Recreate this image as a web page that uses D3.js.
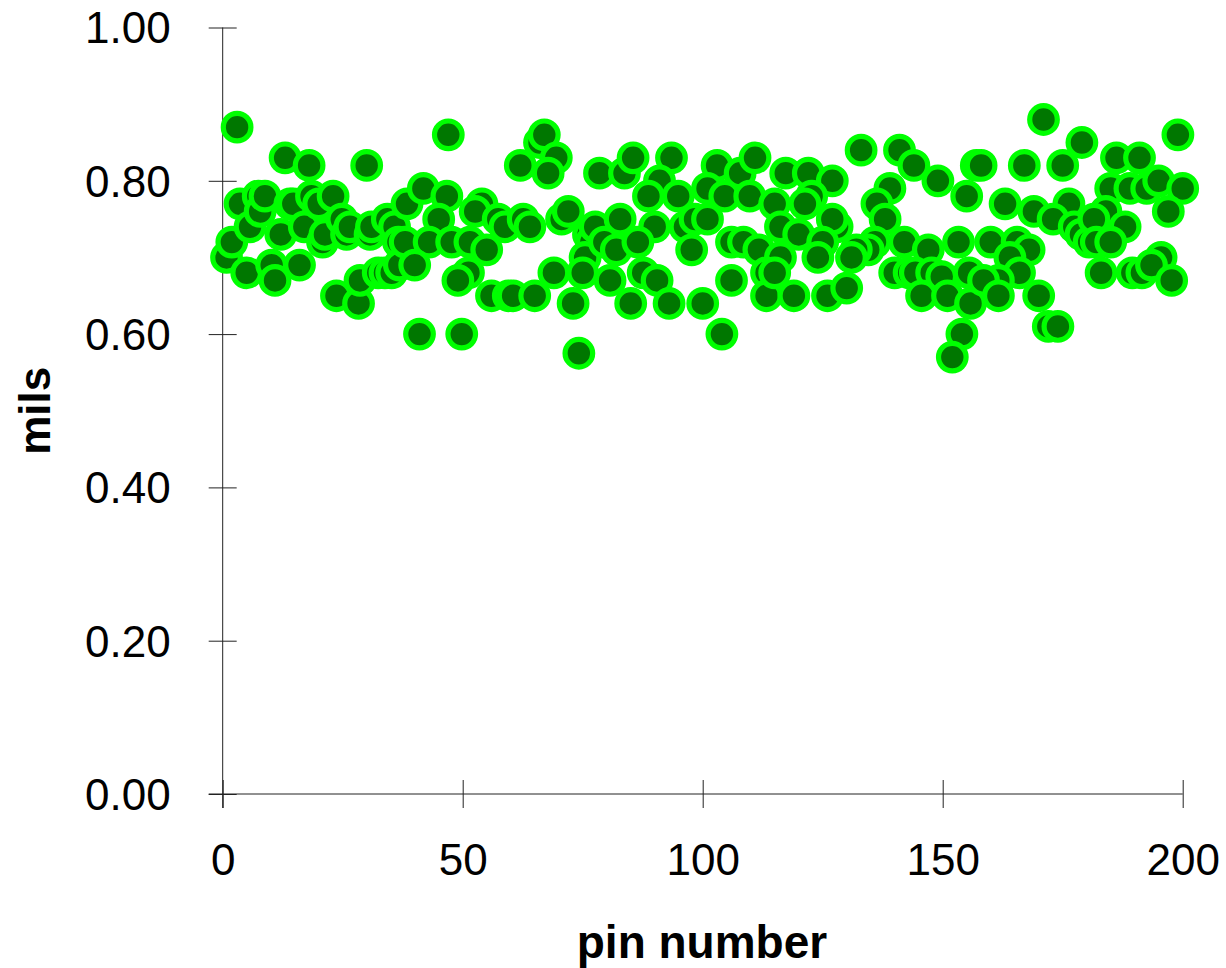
<!DOCTYPE html>
<html>
<head>
<meta charset="utf-8">
<script src="https://cdn.jsdelivr.net/npm/d3@7"></script>
<style>
  body { margin: 0; background: #fff; }
  svg text { font-family: "Liberation Sans", Arial, sans-serif; }
</style>
</head>
<body>
<div id="chart"></div>
<script>
var pins = [
  0.8, 1.9, 3.0, 3.6, 5.0, 5.7, 7.4, 7.8, 8.8, 10.2, 10.9, 12.1, 13.0, 14.0, 14.7, 16.0, 17.0, 18.0, 18.5, 20.0,
  20.8, 21.3, 23.0, 23.7, 24.8, 25.8, 26.5, 28.3, 28.6, 30.0, 30.7, 31.0, 32.4, 33.8, 34.3, 35.2, 35.8, 36.6, 36.8, 38.4,
  41.8, 46.7, 45.0, 47.0, 66.0, 67.0, 62.0, 69.5, 67.8, 54.0, 52.6, 57.4, 58.8, 62.6, 64.0, 70.6, 72.0, 38.0, 43.0, 47.7,
  51.5, 55.0, 40.0, 51.2, 49.0, 56.0, 59.5, 60.5, 65.0, 69.0, 73.0, 41.0, 49.8, 74.2, 76.2, 76.8, 75.5, 75.0, 77.6,
  78.5, 83.7, 85.5, 93.5, 91.0, 88.7, 94.9, 103.0, 101.0, 107.8, 104.6, 110.9, 109.8, 115.0, 117.3, 82.8, 90.0, 79.5, 82.0, 86.5,
  96.3, 98.4, 101.0, 97.7, 106.0, 108.5, 111.7, 116.2, 116.2, 80.7, 87.6, 90.5, 85.0, 93.0, 100.0, 106.0, 113.3, 113.3, 104.0,
  133.0, 141.0, 144.0, 149.0, 155.0, 157.0, 122.0, 127.0, 122.7, 121.3, 139.0, 136.3, 138.0, 128.0, 127.0, 120.0, 125.0, 135.9, 134.5, 132.0,
  131.0, 142.0, 147.0, 153.3, 115.0, 124.0, 140.0, 143.0, 144.3, 147.7, 149.8, 119.0, 126.0, 130.0, 145.6, 151.0, 155.5, 155.8, 154.0, 152.0,
  171.0, 199.0, 179.0, 186.2, 191.0, 158.0, 167.0, 175.0, 163.0, 176.3, 169.0, 173.0, 185.0, 189.0, 192.5, 195.0, 200.0, 197.0, 184.0, 188.0,
  177.4, 178.8, 180.5, 181.5, 182.0, 185.0, 160.0, 165.5, 168.0, 164.0, 166.0, 161.6, 158.5, 161.6, 170.0, 183.0, 189.5, 191.5, 195.5, 193.5,
  197.7, 172.0, 174.0
];
var mils = [
  0.70, 0.72, 0.87, 0.77, 0.68, 0.74, 0.78, 0.76, 0.78, 0.69, 0.67, 0.73, 0.83, 0.77, 0.77, 0.69, 0.74, 0.82, 0.78, 0.77,
  0.72, 0.73, 0.78, 0.65, 0.75, 0.73, 0.74, 0.64, 0.67, 0.82, 0.73, 0.74, 0.68, 0.68, 0.75, 0.68, 0.74, 0.72, 0.69, 0.77,
  0.79, 0.78, 0.75, 0.86, 0.85, 0.86, 0.82, 0.83, 0.81, 0.77, 0.76, 0.75, 0.74, 0.75, 0.74, 0.75, 0.76, 0.72, 0.72, 0.72,
  0.72, 0.71, 0.69, 0.68, 0.67, 0.65, 0.65, 0.65, 0.65, 0.68, 0.64, 0.60, 0.60, 0.575, 0.73, 0.72, 0.70, 0.68, 0.74,
  0.81, 0.81, 0.83, 0.83, 0.80, 0.78, 0.78, 0.82, 0.79, 0.81, 0.78, 0.83, 0.78, 0.77, 0.81, 0.75, 0.74, 0.72, 0.71, 0.72,
  0.74, 0.75, 0.75, 0.71, 0.72, 0.72, 0.71, 0.70, 0.74, 0.67, 0.68, 0.67, 0.64, 0.64, 0.64, 0.67, 0.68, 0.65, 0.60,
  0.84, 0.84, 0.82, 0.80, 0.78, 0.82, 0.81, 0.80, 0.78, 0.77, 0.79, 0.77, 0.75, 0.74, 0.75, 0.73, 0.72, 0.72, 0.71, 0.71,
  0.70, 0.72, 0.71, 0.72, 0.68, 0.70, 0.68, 0.68, 0.68, 0.68, 0.675, 0.65, 0.65, 0.66, 0.65, 0.65, 0.68, 0.64, 0.60, 0.57,
  0.88, 0.86, 0.85, 0.83, 0.83, 0.82, 0.82, 0.82, 0.77, 0.77, 0.76, 0.75, 0.79, 0.79, 0.79, 0.80, 0.79, 0.76, 0.76, 0.74,
  0.74, 0.73, 0.72, 0.75, 0.72, 0.72, 0.72, 0.72, 0.71, 0.70, 0.68, 0.67, 0.67, 0.65, 0.65, 0.68, 0.68, 0.68, 0.70, 0.69,
  0.67, 0.61, 0.61
];
var xTicks = [0, 50, 100, 150, 200];
var yTicks = [0, 0.2, 0.4, 0.6, 0.8, 1.0];

var width = 1226, height = 968;
var svg = d3.select("#chart").append("svg")
    .attr("width", width)
    .attr("height", height);

var x = d3.scaleLinear().domain([0, 200]).range([222.7, 1182.7]);
var y = d3.scaleLinear().domain([0, 1]).range([794, 27.5]);

// y axis, ticks cross the line
var yAxis = svg.append("g")
    .attr("transform", "translate(" + x(0) + ",0)")
    .call(d3.axisLeft(y).tickValues(yTicks).tickSize(0).tickPadding(0).tickFormat(d3.format(".2f")));
yAxis.select(".domain").remove();
yAxis.selectAll(".tick line").attr("x1", -14).attr("x2", 14).attr("stroke", "#222");
yAxis.selectAll(".tick text")
    .attr("x", -52).attr("dy", "0.35em")
    .attr("font-size", 44).attr("fill", "#000")
    .attr("font-family", "Liberation Sans, Arial, sans-serif");
yAxis.append("line")
    .attr("x1", 0).attr("x2", 0)
    .attr("y1", y(1)).attr("y2", y(0) + 14)
    .attr("stroke", "#222");

// x axis
var xAxis = svg.append("g")
    .attr("transform", "translate(0," + y(0) + ")")
    .call(d3.axisBottom(x).tickValues(xTicks).tickSize(0).tickPadding(0).tickFormat(d3.format("d")));
xAxis.select(".domain").remove();
xAxis.selectAll(".tick line").attr("y1", -14).attr("y2", 14).attr("stroke", "#222");
xAxis.selectAll(".tick text")
    .attr("y", 81).attr("dy", 0)
    .attr("font-size", 44).attr("fill", "#000")
    .attr("font-family", "Liberation Sans, Arial, sans-serif");
xAxis.append("line")
    .attr("x1", x(0) - 14).attr("x2", x(200))
    .attr("y1", 0).attr("y2", 0)
    .attr("stroke", "#222");

// points
var pts = pins.map(function(p, i) { return {pin: p, v: mils[i]}; });
svg.append("g").selectAll("circle")
    .data(pts)
  .enter().append("circle")
    .attr("cx", d => x(d.pin))
    .attr("cy", d => y(d.v))
    .attr("r", 13.8)
    .attr("fill", "#007700")
    .attr("stroke", "#00ff00")
    .attr("stroke-width", 5.2);

// axis titles
svg.append("text")
    .attr("x", 702)
    .attr("y", 958)
    .attr("text-anchor", "middle")
    .attr("font-size", 46)
    .attr("font-weight", "bold")
    .text("pin number");

svg.append("text")
    .attr("transform", "translate(50," + y(0.5) + ") rotate(-90)")
    .attr("text-anchor", "middle")
    .attr("font-size", 44)
    .attr("font-weight", "bold")
    .text("mils");
</script>
</body>
</html>
